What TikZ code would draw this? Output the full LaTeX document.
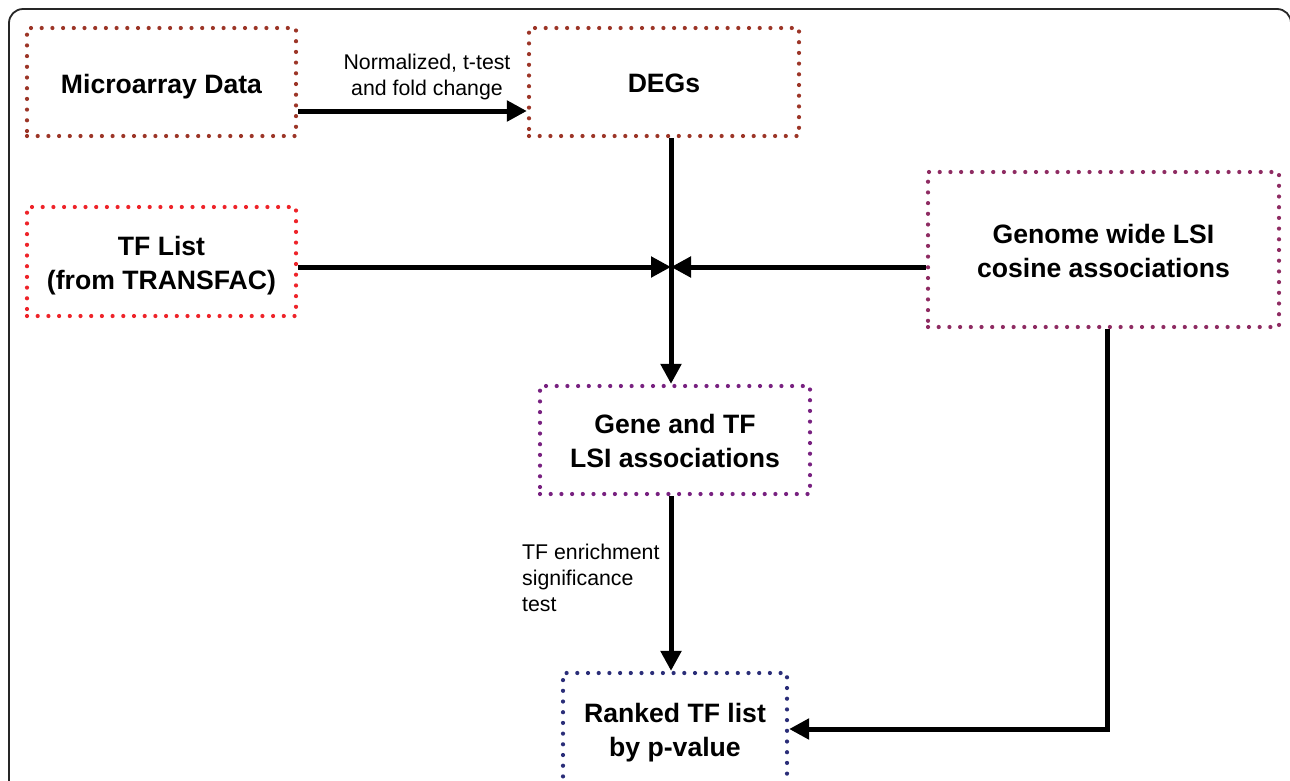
\documentclass[tikz,border=0pt]{standalone}
\usepackage{fontspec}
\setmainfont{Liberation Sans}
\usetikzlibrary{arrows.meta}
\definecolor{brownred}{HTML}{9C3527}
\definecolor{tfred}{HTML}{EE2329}
\definecolor{genomepurple}{HTML}{8E2B62}
\definecolor{genepurple}{HTML}{782180}
\definecolor{navy}{HTML}{2A2D78}
\tikzset{
  dotbox/.style={draw, line width=4.2pt, dash pattern=on 0pt off 10.7pt, line cap=round,
    rectangle, align=center, inner sep=0pt, text depth=0pt,
    font=\fontsize{26.6}{34}\selectfont\bfseries},
  flow/.style={line width=5pt, -{Triangle[length=20pt,width=20pt]}},
  lbl/.style={font=\fontsize{21.3}{26}\selectfont, inner sep=0pt}
}
\begin{document}
\begin{tikzpicture}[x=1pt,y=-1pt]
\useasboundingbox (0,0) rectangle (1290,780);
\clip (0,0) rectangle (1290,780);
\draw[line width=1.8pt, color=black!85, rounded corners=14pt] (9,9) rectangle (1291,820);

\node[dotbox, color=brownred, text=black, minimum width=269pt, minimum height=108pt] (micro) at (161.5,82) {\raisebox{-3pt}{Microarray Data}};
\node[dotbox, color=brownred, text=black, minimum width=270pt, minimum height=108pt] (degs) at (664,82) {\raisebox{-3pt}{DEGs}};
\node[dotbox, color=tfred, text=black, minimum width=269pt, minimum height=109pt] (tf) at (161.5,261.5) {\raisebox{-2pt}{TF List}\\\raisebox{-2pt}{(from TRANSFAC)}};
\node[dotbox, color=genomepurple, text=black, minimum width=351pt, minimum height=155pt] (genome) at (1103.5,249.5) {\raisebox{-2pt}{Genome wide LSI}\\\raisebox{-2pt}{cosine associations}};
\node[dotbox, color=genepurple, text=black, minimum width=270pt, minimum height=108pt] (gene) at (675,440) {\raisebox{-2pt}{Gene and TF}\\\raisebox{-2pt}{LSI associations}};
\node[dotbox, color=navy, text=black, minimum width=224pt, minimum height=112pt] (ranked) at (675,729) {\raisebox{-2pt}{Ranked TF list}\\\raisebox{-2pt}{by p-value}};

\coordinate (junction) at (671,267);
\coordinate (gx) at (1107,730);

% Microarray -> DEGs
\draw[flow] ([yshift=-29pt]micro.east) -- ([yshift=-29pt]degs.west);
\node[lbl, align=center] (normlbl) at (427,77) {Normalized, t-test\\and fold change};

% DEGs -> Gene
\draw[flow] (degs.south -| junction) -- (gene.north -| junction);
% TF -> junction
\draw[flow] (tf.east |- junction) -- (junction);
% Genome -> junction
\draw[flow] (genome.west |- junction) -- (junction);

% Gene -> Ranked
\draw[flow] (gene.south -| junction) -- (ranked.north -| junction);
\node[lbl, align=left, anchor=west] (enrlbl) at (522,578) {TF enrichment\\significance\\test};

% Genome -> Ranked
\draw[flow] (genome.south -| gx) |- (ranked.east);
\end{tikzpicture}
\end{document}
